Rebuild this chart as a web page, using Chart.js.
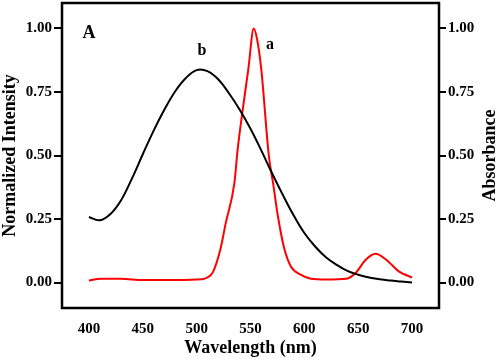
<!DOCTYPE html>
<html>
<head>
<meta charset="utf-8">
<script src="https://cdn.jsdelivr.net/npm/chart.js@4.4.1/dist/chart.umd.min.js"></script>
<style>
  html, body { margin: 0; padding: 0; background: #fff; }
  #wrap { width: 498px; height: 359px; }
</style>
</head>
<body>
<div id="wrap"><canvas id="specChart" width="498" height="359"></canvas></div>
<script>
// Curve b: normalized emission intensity (black)
const emissionWl = [400, 410, 420, 430, 440, 450, 460, 470, 480, 490, 500, 510, 520, 530, 540, 550, 560, 570, 580, 590, 600, 610, 620, 630, 640, 650, 660, 670, 680, 690, 700];
const emissionVal = [0.258, 0.245, 0.27, 0.325, 0.41, 0.505, 0.597, 0.68, 0.752, 0.805, 0.836, 0.832, 0.80, 0.745, 0.68, 0.605, 0.52, 0.43, 0.345, 0.265, 0.195, 0.142, 0.10, 0.07, 0.046, 0.031, 0.02, 0.013, 0.008, 0.004, 0.0];

// Curve a: absorbance (red)
const absorbWl = [400, 411, 430, 450, 480, 505, 510, 515, 522, 527, 535, 538, 542, 548, 553, 556, 560, 567, 571, 575.5, 581, 587.5, 597, 606, 620, 639, 648, 657, 666, 676, 688, 700];
const absorbVal = [0.008, 0.015, 0.015, 0.01, 0.01, 0.013, 0.02, 0.04, 0.13, 0.234, 0.39, 0.52, 0.656, 0.84, 1.0, 0.96, 0.84, 0.50, 0.39, 0.26, 0.14, 0.063, 0.03, 0.015, 0.012, 0.015, 0.04, 0.09, 0.113, 0.09, 0.043, 0.02];

// Tick labels
const xTicks = [400, 450, 500, 550, 600, 650, 700];
const yTicks = [0, 0.25, 0.5, 0.75, 1.0];

// Text labels on the plot
const panelLabel = { text: 'A', x: 400, y: 0.98 };
const curveLabels = [
  { text: 'b', x: 505, y: 0.913 },
  { text: 'a', x: 568, y: 0.935 }
];

const serif = '"Liberation Serif", "Times New Roman", serif';

function toPoints(xs, ys) {
  return xs.map((x, i) => ({ x: x, y: ys[i] }));
}

// Frame round the plot and the extra text
const framePlugin = {
  id: 'frame',
  afterDraw(chart) {
    const ctx = chart.ctx;
    const a = chart.chartArea;
    const xs = chart.scales.x;
    const ys = chart.scales.y;
    ctx.save();
    ctx.strokeStyle = '#000';
    ctx.lineWidth = 2.5;
    ctx.strokeRect(a.left, a.top, a.right - a.left, a.bottom - a.top);

    ctx.fillStyle = '#000';
    ctx.textAlign = 'center';
    ctx.textBaseline = 'middle';
    ctx.font = 'bold 18px ' + serif;
    ctx.fillText(panelLabel.text, xs.getPixelForValue(panelLabel.x), ys.getPixelForValue(panelLabel.y));

    ctx.font = 'bold 16px ' + serif;
    curveLabels.forEach(l => {
      ctx.fillText(l.text, xs.getPixelForValue(l.x), ys.getPixelForValue(l.y));
    });

    // Right axis title reads bottom to top
    ctx.font = 'bold 18px ' + serif;
    ctx.translate(490, (a.top + a.bottom) / 2);
    ctx.rotate(-Math.PI / 2);
    ctx.fillText('Absorbance', 0, 0);
    ctx.restore();
  }
};

const tickFont = { family: serif, size: 15, weight: 'bold' };
const titleFont = { family: serif, size: 18, weight: 'bold' };

function noPad(s) {
  s.paddingTop = 0;
  s.paddingBottom = 0;
  s.paddingLeft = 0;
  s.paddingRight = 0;
}

new Chart(document.getElementById('specChart'), {
  type: 'scatter',
  data: {
    datasets: [
      {
        label: 'b',
        data: toPoints(emissionWl, emissionVal),
        showLine: true,
        borderColor: '#000000',
        borderWidth: 2,
        pointRadius: 0,
        tension: 0.4,
        yAxisID: 'y'
      },
      {
        label: 'a',
        data: toPoints(absorbWl, absorbVal),
        showLine: true,
        borderColor: '#ff0000',
        borderWidth: 2,
        pointRadius: 0,
        cubicInterpolationMode: 'monotone',
        yAxisID: 'y1'
      }
    ]
  },
  options: {
    responsive: false,
    animation: false,
    layout: { padding: { top: 3, left: 0, right: 0, bottom: 0 } },
    plugins: {
      legend: { display: false },
      tooltip: { enabled: false }
    },
    scales: {
      x: {
        type: 'linear',
        min: 375,
        max: 725,
        afterBuildTicks: s => { s.ticks = xTicks.map(v => ({ value: v })); },
        afterFit: s => { s.height = 51; noPad(s); },
        grid: { display: false },
        border: { display: false },
        ticks: { color: '#000', font: tickFont, padding: 4, maxRotation: 0 },
        title: { display: true, text: 'Wavelength (nm)', color: '#000', font: titleFont, padding: { top: 0, bottom: 0 } }
      },
      y: {
        position: 'left',
        min: -0.1,
        max: 1.1,
        afterBuildTicks: s => { s.ticks = yTicks.map(v => ({ value: v })); },
        afterFit: s => { s.width = 62; noPad(s); },
        grid: { display: true, drawOnChartArea: false, drawTicks: true, tickLength: 8, color: '#000', lineWidth: 2 },
        border: { display: false },
        ticks: { color: '#000', font: tickFont, padding: 2, callback: v => v.toFixed(2) },
        title: { display: true, text: 'Normalized Intensity', color: '#000', font: titleFont, padding: 0 }
      },
      y1: {
        position: 'right',
        min: -0.1,
        max: 1.1,
        afterBuildTicks: s => { s.ticks = yTicks.map(v => ({ value: v })); },
        afterFit: s => { s.width = 59; noPad(s); },
        grid: { display: true, drawOnChartArea: false, drawTicks: true, tickLength: 7, color: '#000', lineWidth: 2 },
        border: { display: false },
        ticks: { color: '#000', font: tickFont, padding: 2, callback: v => v.toFixed(2) }
      }
    }
  },
  plugins: [framePlugin]
});
</script>
</body>
</html>
